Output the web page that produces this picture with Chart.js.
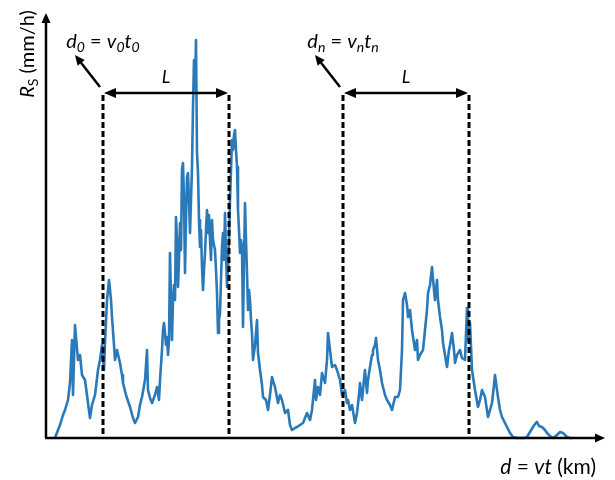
<!DOCTYPE html>
<html><head><meta charset="utf-8">
<script src="https://cdn.jsdelivr.net/npm/chart.js@4"></script>
<style>html,body{margin:0;padding:0;background:#fff}</style>
</head><body>
<canvas id="c" width="615" height="480"></canvas>
<script>
// distance along the storm track (arbitrary units, no ticks shown)
const distance = [9,12,14,17,19,22,24,26,27,29,32,34,36,39,41,44,46,49,52,54,56,58,59,61,63,65,66,68,69,71,74,76,77,80,84,87,89,92,94,96,99,101,102,104,106,109,111,113,
114,116,117,118,119,120,121,122,123,124,125,126,127,128,129,130,131,132,133,134,135,136,137,138,139,140,141,142,143,144,145,146,147,148,149,150,151,152,153,154,155,156,157,158,159,160,161,162,163,164,165,166,167,169,170,171,172,173,174,175,176,177,178,179,180,181,182,183,184,185,186,187,188,189,190,191,192,193,194,195,196,197,198,199,200,201,202,203,204,205,206,207,
209,211,212,214,216,217,220,222,224,226,229,232,234,236,239,242,244,246,249,251,254,257,259,261,264,266,269,270,272,274,276,279,281,282,284,286,289,291,294,296,297,299,301,302,304,306,309,311,313,314,316,317,319,321,322,324,326,327,329,330,332,334,336,339,341,344,346,349,352,354,356,357,359,361,362,364,366,369,371,372,374,377,379,381,382,384,386,388,389,391,392,394,396,397,399,401,403,404,406,408,409,411,414,416,419,421,422,424,426,429,432,434,436,439,442,444,446,448,449,451,452,454,456,459,461,464,467,471,474,478,481,484,487,489,491,493,496,499,501,504,507,511,514,517,519,521,524,526];
// rain rate R_S (arbitrary units)
const rainRate = [0,8,13,23,28,38,55,98,43,113,78,83,63,58,43,20,33,43,68,78,93,68,95,138,158,138,121,93,78,88,75,63,55,43,31,20,15,21,33,41,58,88,48,40,35,43,51,38,
58,88,108,115,105,93,101,83,98,185,138,98,138,153,138,221,198,151,178,215,188,268,275,238,165,218,261,265,238,205,238,271,331,378,348,398,285,265,218,191,208,171,148,168,185,208,228,205,223,198,178,218,198,188,168,145,105,118,125,158,191,205,178,225,188,151,168,198,238,268,298,288,303,308,288,271,228,208,185,198,191,111,178,235,198,165,128,148,138,118,105,78,
93,118,85,68,53,41,38,28,43,61,51,35,43,38,25,28,13,8,10,11,13,15,20,25,18,28,58,38,51,43,65,55,78,105,88,71,73,68,58,43,45,48,35,38,28,33,15,25,43,55,38,48,68,45,58,71,83,88,93,100,78,68,55,43,38,33,28,41,41,48,88,138,145,133,121,128,108,88,98,78,83,88,108,128,145,153,171,148,138,158,138,121,108,95,83,71,88,93,105,88,75,83,88,80,78,130,98,115,68,48,31,38,48,41,21,28,35,53,63,48,41,28,21,15,11,5,1,0,0,0,1,6,11,14,16,12,11,8,5,2,0,3,6,5,3,1,0,0];
// window annotations
const windowStarts = [57, 297];
const windowLength = 126;
const windowTop = 345;
const windowLabels = ['L', 'L'];
const startLabels = [
  [['d','i',0],['0','i',1],[' = ','n',0],['v','i',0],['0','i',1],['t','i',0],['0','i',1]],
  [['d','i',0],['n','i',1],[' = ','n',0],['v','i',0],['n','i',1],['t','i',0],['n','i',1]]
];
const yTitle = [['R','i',0],['S','n',1],[' (mm/h)','n',0]];
const xTitle = [['d','i',0],[' = ','n',0],['vt','i',0],[' (km)','n',0]];

const FONT = 'Lato, "Open Sans", sans-serif';
function runFont(r, size){ const s = r[2] ? Math.round(size*0.68) : size; return (r[1]==='i'?'italic ':'') + s + 'px ' + FONT; }
function runsWidth(ctx, runs, size){ let w=0; for(const r of runs){ ctx.font=runFont(r,size); w+=ctx.measureText(r[0]).width; } return w; }
function drawRuns(ctx, runs, x, y, size){
  let cx = x;
  for(const r of runs){ ctx.font = runFont(r,size); ctx.fillText(r[0], cx, y + (r[2]? size*0.22:0)); cx += ctx.measureText(r[0]).width; }
}
function arrowHead(ctx, tx, ty, ang, len, half){
  ctx.beginPath();
  ctx.moveTo(tx, ty);
  ctx.lineTo(tx - len*Math.cos(ang) + half*Math.sin(ang), ty - len*Math.sin(ang) - half*Math.cos(ang));
  ctx.lineTo(tx - len*Math.cos(ang) - half*Math.sin(ang), ty - len*Math.sin(ang) + half*Math.cos(ang));
  ctx.closePath(); ctx.fill();
}

const deco = {
  id: 'deco',
  afterDatasetsDraw(chart){
    const ctx = chart.ctx, xs = chart.scales.x, ys = chart.scales.y, a = chart.chartArea;
    ctx.save();
    ctx.fillStyle = '#000'; ctx.strokeStyle = '#000';
    const ox = xs.getPixelForValue(0), oy = ys.getPixelForValue(0);
    ctx.lineWidth = 2.5;
    ctx.beginPath(); ctx.moveTo(ox, oy); ctx.lineTo(ox, a.top + 6); ctx.stroke();
    arrowHead(ctx, ox, a.top, -Math.PI/2, 10, 4.5);
    ctx.beginPath(); ctx.moveTo(ox - 1, oy); ctx.lineTo(a.right - 6, oy); ctx.stroke();
    arrowHead(ctx, a.right, oy, 0, 10, 4.5);
    const top = ys.getPixelForValue(windowTop);
    windowStarts.forEach((s, i) => {
      const x0 = xs.getPixelForValue(s), x1 = xs.getPixelForValue(s + windowLength);
      ctx.lineWidth = 3; ctx.setLineDash([6, 3]);
      ctx.beginPath(); ctx.moveTo(x0, top + 2); ctx.lineTo(x0, oy); ctx.moveTo(x1, top + 2); ctx.lineTo(x1, oy); ctx.stroke();
      ctx.setLineDash([]);
      ctx.lineWidth = 2.5;
      ctx.beginPath(); ctx.moveTo(x0 + 6, top); ctx.lineTo(x1 - 6, top); ctx.stroke();
      arrowHead(ctx, x0 + 1, top, Math.PI, 12, 5);
      arrowHead(ctx, x1 - 1, top, 0, 12, 5);
      const sx = x0 - 3, sy = top - 6, tx = x0 - 28, ty = top - 38;
      const ang = Math.atan2(ty - sy, tx - sx);
      ctx.beginPath(); ctx.moveTo(sx, sy); ctx.lineTo(tx - 6*Math.cos(ang), ty - 6*Math.sin(ang)); ctx.stroke();
      arrowHead(ctx, tx, ty, ang, 10, 4.5);
      ctx.textBaseline = 'alphabetic'; ctx.textAlign = 'left';
      ctx.font = 'italic 18px ' + FONT;
      const lw = ctx.measureText(windowLabels[i]).width;
      ctx.fillText(windowLabels[i], (x0 + x1)/2 - lw/2, top - 10);
      const w = runsWidth(ctx, startLabels[i], 20);
      drawRuns(ctx, startLabels[i], x0 - w/2, 48, 20);
    });
    ctx.save();
    ctx.translate(34, 54); ctx.rotate(-Math.PI/2);
    const yw = runsWidth(ctx, yTitle, 20);
    drawRuns(ctx, yTitle, -yw/2, 0, 20);
    ctx.restore();
    const xw = runsWidth(ctx, xTitle, 21);
    drawRuns(ctx, xTitle, 596 - xw, 474, 21);
    ctx.restore();
  }
};

new Chart(document.getElementById('c'), {
  type: 'line',
  data: { datasets: [{ data: distance.map((d, i) => ({x: d, y: rainRate[i]})), borderColor: '#2a7ab9', borderWidth: 2.6, pointRadius: 0, tension: 0, fill: false, clip: false, borderJoinStyle: 'round' }] },
  options: {
    responsive: false, animation: false,
    layout: { padding: { left: 46, right: 10, top: 13, bottom: 42 } },
    scales: {
      x: { type: 'linear', min: 0, max: 559, display: false },
      y: { min: 0, max: 425, display: false }
    },
    plugins: { legend: { display: false }, tooltip: { enabled: false } }
  },
  plugins: [deco]
});
</script>
</body></html>
